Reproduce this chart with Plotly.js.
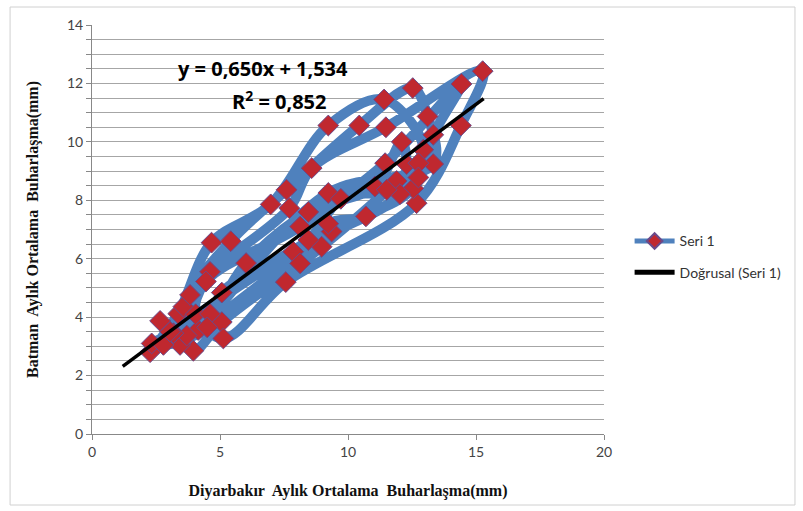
<!DOCTYPE html>
<html>
<head>
<meta charset="utf-8">
<script src="https://cdn.plot.ly/plotly-3.0.1.min.js"></script>
<style>html,body{margin:0;padding:0;background:#fff;}#chart{width:803px;height:511px;}</style>
</head>
<body>
<div id="chart"></div>
<script>
// Diyarbakır (x) vs Batman (y) monthly mean evaporation, in series order
const diyarbakir = [2.27,3.37,4.67,6.98,9.23,11.41,12.94,11.9,8.97,5.07,
  3.96,3.57,5.42,7.6,10.44,12.53,13.11,13.33,9.23,4.15,
  3.44,3.83,4.61,7.71,8.58,11.48,15.26,14.41,12.68,7.57,
  5.13,4.05,4.45,8.13,11.45,14.43,13.33,12.55,9.36,3.7,
  2.33,4.61,6.02,8.45,11.05,12.1,12.29,12.03,7.86,3.18,
  2.79,4.5,5.07,8.45,9.72,11.51,12.75,12.75,10.7,9.23,8.13,3.05,2.66];
const batman = [2.8,4.12,6.55,7.86,10.56,11.45,9.73,8.66,6.41,3.83,
  2.85,4.36,6.6,8.36,10.56,11.84,10.87,9.24,8.25,3.56,
  3.05,4.76,5.55,7.73,9.1,10.5,12.42,10.56,7.9,5.2,
  3.27,4.1,5.22,7.1,9.27,11.98,10.24,8.41,6.93,3.37,
  3.1,4.11,5.85,7.6,8.47,10.0,9.24,8.21,6.24,3.45,
  3.05,3.65,4.84,6.64,8.05,8.36,9.27,8.78,7.45,7.2,5.84,3.5,3.87];
const trendSlope = 0.650;
const trendIntercept = 1.534;
const trendR2 = 0.852;
const trendXRange = [1.2, 15.3];
const xTicks = [0,5,10,15,20];
const yTicks = [0,2,4,6,8,10,12,14];

const fmt = v => v.toFixed(3).replace('.', ',');
const trendX = trendXRange;
const trendY = trendXRange.map(x => trendSlope*x + trendIntercept);

const data = [
  {x: diyarbakir, y: batman, type:'scatter', mode:'lines+markers', name:'Seri 1',
   legendgroup:'a',
   line:{color:'#4F81BD', width:10, shape:'spline', smoothing:1},
   marker:{symbol:'diamond', size:16, color:'#C0282F', line:{color:'#6a4a8a', width:1}}},
  {x: trendX, y: trendY, type:'scatter', mode:'lines', name:'Doğrusal (Seri 1)',
   legendgroup:'b',
   line:{color:'#000000', width:3.5}}
];

const layout = {
  width:803, height:511,
  margin:{l:92, r:199, t:25, b:77},
  paper_bgcolor:'#ffffff', plot_bgcolor:'#ffffff',
  showlegend:true,
  legend:{x:1.05, y:0.51, xanchor:'left', yanchor:'top', bgcolor:'rgba(0,0,0,0)',
    font:{family:'Lato, "Open Sans", sans-serif', size:14, color:'#333'},
    itemwidth:40, itemsizing:'constant', traceorder:'grouped', tracegroupgap:10},
  xaxis:{range:[0,20], tickvals:xTicks, ticktext:xTicks.map(String),
    showgrid:false, zeroline:false, showline:true, linecolor:'#888', linewidth:1,
    ticks:'outside', ticklen:5, tickcolor:'#888',
    tickfont:{family:'Lato, "Open Sans", sans-serif', size:14, color:'#444'},
    title:{text:'Diyarbakır  Aylık Ortalama  Buharlaşma(mm)', standoff:26,
      font:{family:'"Liberation Serif", serif', size:16, color:'#111', weight:'bold'}}},
  yaxis:{range:[0,14], tickvals:yTicks, ticktext:yTicks.map(String),
    showgrid:true, gridcolor:'#a6a6a6', gridwidth:1, zeroline:false,
    showline:true, linecolor:'#888', linewidth:1,
    ticks:'outside', ticklen:5, tickcolor:'#888',
    minor:{dtick:0.5, showgrid:true, gridcolor:'#a6a6a6', gridwidth:1, ticks:'outside', ticklen:5, tickcolor:'#888'},
    tickfont:{family:'Lato, "Open Sans", sans-serif', size:14, color:'#444'},
    title:{text:'Batman  Aylık Ortalama  Buharlaşma(mm)', standoff:24,
      font:{family:'"Liberation Serif", serif', size:16, color:'#111', weight:'bold'}}},
  annotations:[
    {x:6.68, y:12.5, xref:'x', yref:'y', showarrow:false,
     text:'y = ' + fmt(trendSlope) + 'x + ' + fmt(trendIntercept),
     font:{family:'"Open Sans", sans-serif', size:20, color:'#000', weight:'bold'}},
    {x:7.34, y:11.42, xref:'x', yref:'y', showarrow:false,
     text:'R<sup>2</sup> = ' + trendR2.toFixed(3).replace('.', ','),
     font:{family:'"Open Sans", sans-serif', size:20, color:'#000', weight:'bold'}}
  ],
  shapes:[
    {type:'rect', xref:'paper', yref:'paper', x0:-0.160, x1:1.373, y0:-0.1736, y1:1.044,
     line:{color:'#d0d0d0', width:1}, fillcolor:'rgba(0,0,0,0)', layer:'below'}
  ]
};

Plotly.newPlot('chart', data, layout, {staticPlot:true, displayModeBar:false});
</script>
</body>
</html>
